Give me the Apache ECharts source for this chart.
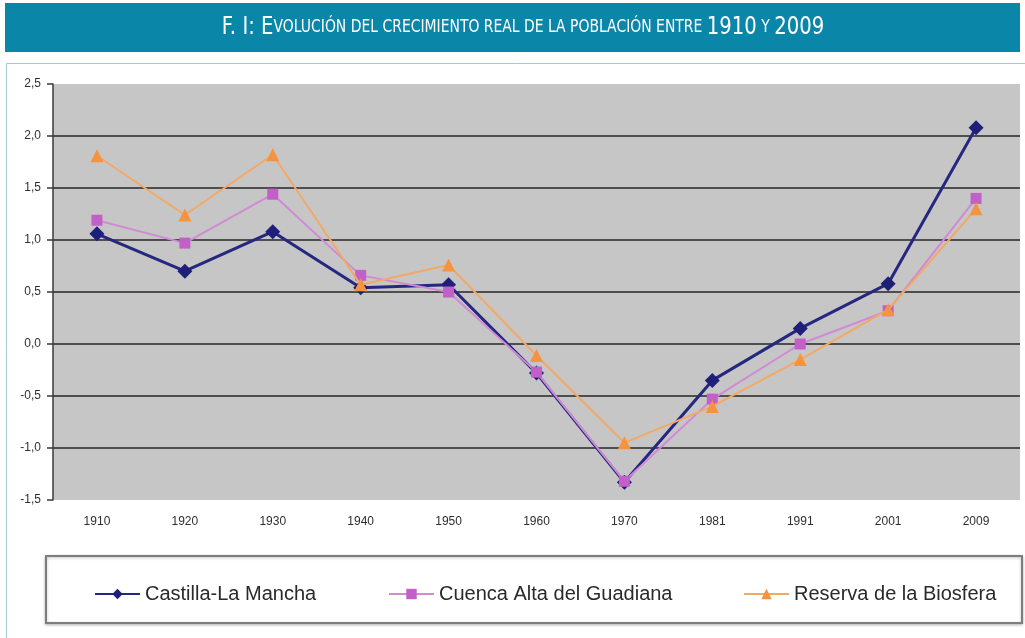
<!DOCTYPE html>
<html>
<head>
<meta charset="utf-8">
<script src="https://cdn.jsdelivr.net/npm/echarts@6/dist/echarts.min.js"></script>
<style>
  html, body { margin: 0; padding: 0; background: #ffffff; }
  #chart { width: 1025px; height: 638px; }
</style>
</head>
<body>
<div id="chart"></div>
<script>
// Census years on the category axis
const years = ['1910', '1920', '1930', '1940', '1950', '1960', '1970', '1981', '1991', '2001', '2009'];

// Real population growth (%) per period
const castillaLaMancha = [1.06, 0.70, 1.08, 0.54, 0.57, -0.28, -1.33, -0.35, 0.15, 0.58, 2.08];
const cuencaAlta       = [1.19, 0.97, 1.44, 0.66, 0.50, -0.27, -1.32, -0.53, 0.00, 0.32, 1.40];
const reservaBiosfera  = [1.81, 1.24, 1.82, 0.57, 0.76, -0.11, -0.95, -0.60, -0.15, 0.33, 1.30];

const seriesNames = ['Castilla-La Mancha', 'Cuenca Alta del Guadiana', 'Reserva de la Biosfera'];

// Y-axis range and step
const yMin = -1.5, yMax = 2.5, yStep = 0.5;

const chart = echarts.init(document.getElementById('chart'), null, { renderer: 'canvas' });

const legendText = { fontFamily: 'Liberation Sans, Arial, sans-serif', fontSize: 20, color: '#2a2a2a' };

function legendAt(name, left) {
  return {
    data: [name],
    left: left,
    top: 579,
    itemWidth: 45,
    itemHeight: 13,
    textStyle: legendText,
    selectedMode: false
  };
}

const titleFont = 'DejaVu Sans, sans-serif';

const option = {
  backgroundColor: '#ffffff',
  animation: false,
  graphic: [
    // header band
    { type: 'rect', shape: { x: 5, y: 3, width: 1015, height: 49 }, style: { fill: '#0a86a9' }, z: 0 },
    {
      type: 'text',
      x: 523,
      y: 28,
      scaleX: 0.82,
      style: {
        x: 0,
        y: 0,
        align: 'center',
        verticalAlign: 'middle',
        rich: {
          b: { fontFamily: titleFont, fontSize: 24, fill: '#ffffff' },
          s: { fontFamily: titleFont, fontSize: 17, fill: '#ffffff' }
        },
        text: '{b|F. I: E}{s|VOLUCIÓN DEL CRECIMIENTO REAL DE LA POBLACIÓN ENTRE }{b|1910}{s| Y }{b|2009}',
        fill: '#ffffff'
      },
      z: 2
    },
    // outer chart frame
    { type: 'rect', shape: { x: 6.5, y: 63.5, width: 1030, height: 580 }, style: { fill: 'none', stroke: '#a9c6d3', lineWidth: 1 }, z: 0 },
    // legend frame
    { type: 'rect', shape: { x: 46, y: 556, width: 976, height: 67 }, style: { fill: '#ffffff', stroke: '#7d7d7d', lineWidth: 2, shadowColor: 'rgba(0,0,0,0.25)', shadowBlur: 3, shadowOffsetY: 1 }, z: 0 }
  ],
  grid: { left: 53, right: 5, top: 84, bottom: 138, show: true, backgroundColor: '#c6c6c6', borderWidth: 0 },
  legend: [
    legendAt(seriesNames[0], 89),
    legendAt(seriesNames[1], 383),
    legendAt(seriesNames[2], 738)
  ],
  xAxis: {
    type: 'category',
    data: years,
    boundaryGap: true,
    axisLine: { show: false },
    axisTick: { show: false },
    axisLabel: { color: '#2f2f2f', fontFamily: 'Liberation Sans, Arial, sans-serif', fontSize: 12, margin: 16 }
  },
  yAxis: {
    type: 'value',
    min: yMin,
    max: yMax,
    interval: yStep,
    axisLine: { show: true, lineStyle: { color: '#3a3a3a', width: 1.5 } },
    axisTick: { show: true, length: 6, lineStyle: { color: '#3a3a3a', width: 1.5 } },
    axisLabel: {
      color: '#2f2f2f',
      fontFamily: 'Liberation Sans, Arial, sans-serif',
      fontSize: 12,
      margin: 12,
      formatter: v => v.toFixed(1).replace('.', ',')
    },
    splitLine: { show: true, showMinLine: false, showMaxLine: false, lineStyle: { color: '#4e4e4e', width: 2 } }
  },
  series: [
    {
      name: seriesNames[0],
      type: 'line',
      data: castillaLaMancha,
      symbol: 'diamond',
      symbolSize: 15,
      itemStyle: { color: '#1e1f78' },
      lineStyle: { color: '#25287e', width: 3 },
      z: 3
    },
    {
      name: seriesNames[1],
      type: 'line',
      data: cuencaAlta,
      symbol: 'rect',
      symbolSize: 11,
      itemStyle: { color: '#c35fc9' },
      lineStyle: { color: '#d08ad6', width: 2 },
      z: 4
    },
    {
      name: seriesNames[2],
      type: 'line',
      data: reservaBiosfera,
      symbol: 'triangle',
      symbolSize: 13,
      itemStyle: { color: '#f5933f' },
      lineStyle: { color: '#f4a865', width: 2 },
      z: 5
    }
  ]
};

chart.setOption(option);
</script>
</body>
</html>
